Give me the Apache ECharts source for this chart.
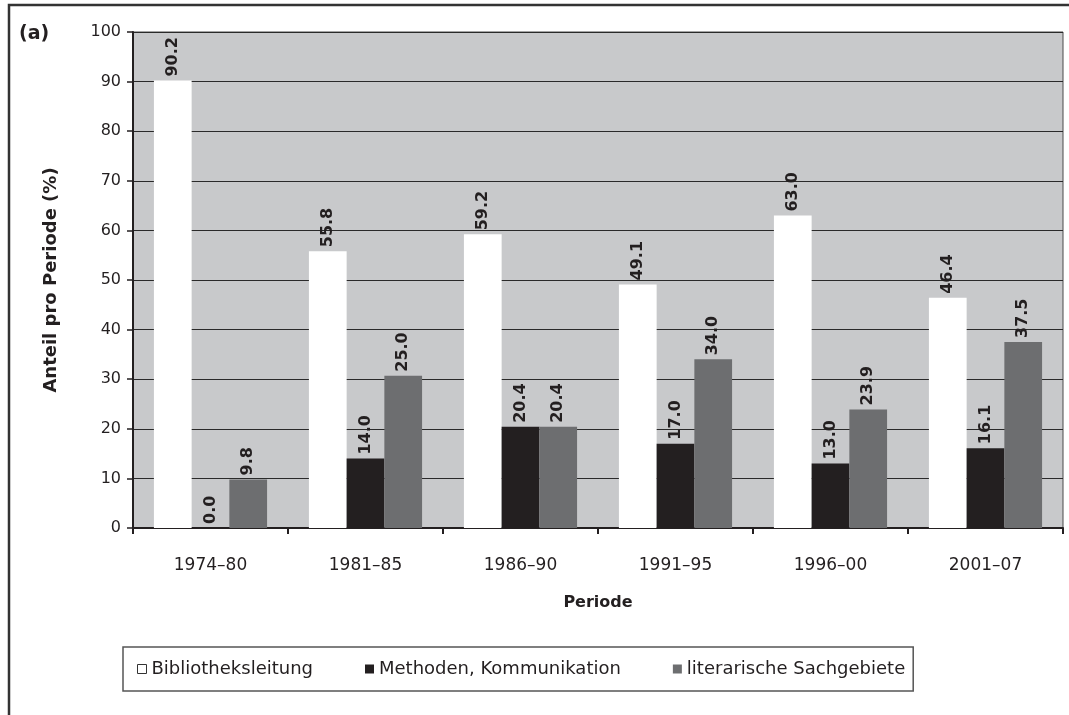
<!DOCTYPE html>
<html>
<head>
<meta charset="utf-8">
<script src="https://cdn.jsdelivr.net/npm/echarts@6/dist/echarts.min.js"></script>
<style>
  html, body { margin: 0; padding: 0; background: #fff; }
  #chart { width: 1069px; height: 715px; }
</style>
</head>
<body>
<div id="chart"></div>
<script>
const periods = ['1974–80', '1981–85', '1986–90', '1991–95', '1996–00', '2001–07'];
const bibValues = [90.2, 55.8, 59.2, 49.1, 63.0, 46.4];
const methValues = [0.0, 14.0, 20.4, 17.0, 13.0, 16.1];
// bar heights as drawn in the picture (the 1981–85 bar stands at ~31 though labelled 25.0)
const litValues = [9.8, 30.7, 20.4, 34.0, 23.9, 37.5];
const litLabels = ['9.8', '25.0', '20.4', '34.0', '23.9', '37.5'];
const yTicks = [0, 100, 10];

const FONT = 'DejaVu Sans';
const ink = '#231f20';

const chart = echarts.init(document.getElementById('chart'));

const valueLabel = (texts) => ({
    show: true,
    position: 'top',
    rotate: 90,
    align: 'left',
    verticalAlign: 'middle',
    distance: 4,
    color: ink,
    fontFamily: FONT,
    fontWeight: 'bold',
    fontSize: 16,
    formatter: (p) => texts ? texts[p.dataIndex] : p.value.toFixed(1),
});

const option = {
    animation: false,
    textStyle: { fontFamily: FONT, color: ink },
    title: {
        text: '(a)',
        left: 14,
        top: 20,
        textStyle: { fontFamily: FONT, fontWeight: 'bold', fontSize: 19, color: ink },
    },
    grid: {
        left: 133,
        right: 6,
        top: 32,
        bottom: 187,
        show: true,
        backgroundColor: '#c8c9cb',
        borderColor: '#4a4a4a',
        borderWidth: 1,
    },
    legend: {
        left: 123,
        top: 647,
        orient: 'horizontal',
        padding: [13, 8, 13, 14],
        itemGap: 52,
        itemWidth: 9,
        itemHeight: 9,
        borderColor: '#555',
        borderWidth: 1.5,
        borderRadius: 0,
        textStyle: { fontFamily: FONT, fontSize: 18, color: ink },
        data: [
            { name: 'Bibliotheksleitung', icon: 'rect', itemStyle: { color: '#fff', borderColor: '#333', borderWidth: 1 } },
            { name: 'Methoden, Kommunikation', icon: 'rect' },
            { name: 'literarische Sachgebiete', icon: 'rect' },
        ],
    },
    xAxis: {
        type: 'category',
        data: periods,
        name: 'Periode',
        nameLocation: 'middle',
        nameGap: 67,
        nameTextStyle: { fontFamily: FONT, fontWeight: 'bold', fontSize: 16, color: ink },
        axisLine: { lineStyle: { color: ink, width: 2 } },
        axisTick: { show: true, length: 6, inside: false, lineStyle: { color: ink, width: 2 } },
        axisLabel: { margin: 29, fontSize: 17, color: ink, fontFamily: FONT },
    },
    yAxis: {
        type: 'value',
        min: yTicks[0],
        max: yTicks[1],
        interval: yTicks[2],
        name: 'Anteil pro Periode (%)',
        nameLocation: 'middle',
        nameGap: 73,
        nameTextStyle: { fontFamily: FONT, fontWeight: 'bold', fontSize: 18, color: ink },
        axisLine: { show: true, lineStyle: { color: ink, width: 2 } },
        axisTick: { show: true, length: 6, lineStyle: { color: ink, width: 1.5 } },
        axisLabel: { margin: 12, fontSize: 16, color: ink, fontFamily: FONT },
        splitLine: { show: true, lineStyle: { color: '#2a2a2a', width: 1.2 } },
    },
    series: [
        {
            name: 'Bibliotheksleitung',
            type: 'bar',
            data: bibValues,
            barGap: '0%',
            barCategoryGap: '27%',
            itemStyle: { color: '#ffffff' },
            label: valueLabel(null),
        },
        {
            name: 'Methoden, Kommunikation',
            type: 'bar',
            data: methValues,
            itemStyle: { color: '#231f20' },
            label: valueLabel(null),
        },
        {
            name: 'literarische Sachgebiete',
            type: 'bar',
            data: litValues,
            itemStyle: { color: '#6d6e70' },
            label: valueLabel(litLabels),
        },
    ],
    graphic: [
        {
            type: 'polyline',
            silent: true,
            shape: { points: [[9, 715], [9, 5], [1069, 5]] },
            style: { stroke: '#333', lineWidth: 2.5, fill: null },
        },
    ],
};

chart.setOption(option);
</script>
</body>
</html>
